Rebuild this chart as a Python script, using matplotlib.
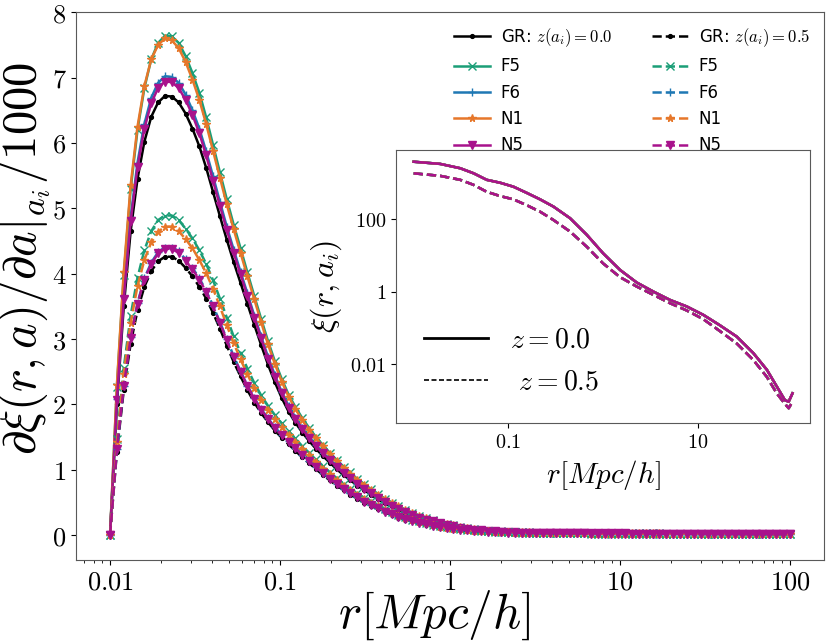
import numpy as np
import matplotlib
matplotlib.use("Agg")
import matplotlib.pyplot as plt
from matplotlib.lines import Line2D
from matplotlib.ticker import FuncFormatter, NullFormatter, FixedLocator, NullLocator

plt.rcParams['mathtext.fontset'] = 'cm'

# radial bins of the measurement (log spaced, 0.01 .. 100 Mpc/h)
r = np.logspace(-2, 2, 100)

# d xi_bar / d a / 1000 (indices 0..59), tails shared below
TAIL_Z0_A = [0.04, 0.038, 0.036, 0.035, 0.034, 0.033, 0.032, 0.031, 0.030, 0.030,
             0.029, 0.029, 0.028, 0.028, 0.027, 0.027, 0.026, 0.026, 0.026, 0.025,
             0.025, 0.025, 0.024, 0.024, 0.024, 0.023, 0.023, 0.023, 0.023, 0.022,
             0.022, 0.022, 0.022, 0.021, 0.021, 0.021, 0.021, 0.020, 0.020, 0.020]
TAIL_Z0_B = [0.045, 0.042, 0.04, 0.038, 0.037, 0.036, 0.035, 0.034, 0.033, 0.032,
             0.031, 0.031, 0.030, 0.030, 0.029, 0.029, 0.028, 0.028, 0.027, 0.027,
             0.027, 0.026, 0.026, 0.026, 0.025, 0.025, 0.025, 0.024, 0.024, 0.024,
             0.024, 0.023, 0.023, 0.023, 0.023, 0.022, 0.022, 0.022, 0.022, 0.022]
TAIL_Z05 = [0.035, 0.034, 0.033, 0.032, 0.031, 0.030, 0.029, 0.028, 0.028, 0.027,
            0.026, 0.026, 0.025, 0.025, 0.024, 0.024, 0.023, 0.023, 0.023, 0.022,
            0.022, 0.022, 0.021, 0.021, 0.021, 0.020, 0.020, 0.020, 0.020, 0.019,
            0.019, 0.019, 0.019, 0.018, 0.018, 0.018, 0.018, 0.018, 0.017, 0.017]

gr_z0 = [0, 2.0, 3.5, 4.65, 5.45, 6.02, 6.4, 6.62, 6.72, 6.71,
         6.62, 6.45, 6.22, 5.95, 5.62, 5.25, 4.88, 4.52, 4.18, 3.86,
         3.54, 3.22, 2.91, 2.61, 2.34, 2.1, 1.89, 1.72, 1.57, 1.44,
         1.32, 1.21, 1.11, 1.01, 0.92, 0.84, 0.76, 0.69, 0.62, 0.55,
         0.49, 0.44, 0.39, 0.34, 0.30, 0.26, 0.23, 0.20, 0.17, 0.15,
         0.13, 0.11, 0.095, 0.082, 0.072, 0.063, 0.056, 0.05, 0.046, 0.042] + TAIL_Z0_A
f5_z0 = [0, 2.27, 3.98, 5.29, 6.2, 6.84, 7.28, 7.53, 7.64, 7.63,
         7.53, 7.33, 7.07, 6.77, 6.39, 5.97, 5.55, 5.14, 4.75, 4.39,
         4.02, 3.66, 3.31, 2.97, 2.66, 2.39, 2.15, 1.96, 1.79, 1.64,
         1.5, 1.38, 1.26, 1.15, 1.05, 0.96, 0.86, 0.78, 0.7, 0.63,
         0.56, 0.5, 0.44, 0.39, 0.34, 0.3, 0.26, 0.23, 0.19, 0.17,
         0.15, 0.13, 0.11, 0.093, 0.082, 0.072, 0.064, 0.057, 0.052, 0.048] + TAIL_Z0_B
f6_z0 = [0, 2.09, 3.66, 4.86, 5.7, 6.29, 6.69, 6.92, 7.02, 7.01,
         6.92, 6.74, 6.5, 6.22, 5.87, 5.49, 5.1, 4.72, 4.37, 4.03,
         3.7, 3.36, 3.04, 2.73, 2.45, 2.19, 1.98, 1.8, 1.64, 1.5,
         1.38, 1.26, 1.16, 1.06, 0.96, 0.88, 0.79, 0.72, 0.65, 0.57,
         0.51, 0.46, 0.41, 0.36, 0.31, 0.27, 0.24, 0.21, 0.18, 0.16,
         0.14, 0.115, 0.1, 0.086, 0.075, 0.066, 0.058, 0.052, 0.048, 0.044] + TAIL_Z0_A
n1_z0 = [0, 2.3, 4.03, 5.35, 6.25, 6.87, 7.28, 7.5, 7.6, 7.57,
         7.45, 7.24, 6.97, 6.66, 6.29, 5.88, 5.47, 5.06, 4.68, 4.32,
         3.96, 3.61, 3.26, 2.92, 2.62, 2.35, 2.12, 1.93, 1.76, 1.61,
         1.48, 1.36, 1.24, 1.13, 1.03, 0.94, 0.85, 0.77, 0.69, 0.62,
         0.55, 0.49, 0.44, 0.38, 0.34, 0.29, 0.26, 0.22, 0.19, 0.17,
         0.15, 0.12, 0.11, 0.092, 0.081, 0.071, 0.063, 0.056, 0.052, 0.047] + TAIL_Z0_B
n5_z0 = [0, 2.07, 3.62, 4.8, 5.63, 6.22, 6.61, 6.84, 6.94, 6.93,
         6.84, 6.66, 6.43, 6.15, 5.81, 5.42, 5.04, 4.67, 4.32, 3.99,
         3.66, 3.33, 3.01, 2.7, 2.42, 2.17, 1.95, 1.78, 1.62, 1.49,
         1.36, 1.25, 1.15, 1.04, 0.95, 0.87, 0.79, 0.71, 0.64, 0.57,
         0.51, 0.45, 0.4, 0.35, 0.31, 0.27, 0.24, 0.21, 0.18, 0.155,
         0.135, 0.114, 0.098, 0.085, 0.074, 0.065, 0.058, 0.052, 0.047, 0.043] + TAIL_Z0_A

gr_z05 = [0, 1.28, 2.22, 2.93, 3.44, 3.8, 4.04, 4.19, 4.26, 4.26,
          4.2, 4.09, 3.96, 3.8, 3.62, 3.4, 3.16, 2.9, 2.65, 2.43,
          2.22, 2.03, 1.87, 1.73, 1.6, 1.49, 1.39, 1.29, 1.19, 1.1,
          1.01, 0.92, 0.84, 0.76, 0.69, 0.62, 0.56, 0.5, 0.45, 0.4,
          0.35, 0.31, 0.27, 0.24, 0.21, 0.18, 0.16, 0.14, 0.12, 0.105,
          0.092, 0.082, 0.073, 0.065, 0.058, 0.052, 0.047, 0.043, 0.04, 0.037] + TAIL_Z05
f5_z05 = [0, 1.47, 2.56, 3.36, 3.94, 4.36, 4.65, 4.82, 4.89, 4.89,
          4.82, 4.69, 4.54, 4.36, 4.15, 3.9, 3.62, 3.33, 3.04, 2.79,
          2.55, 2.33, 2.14, 1.98, 1.84, 1.71, 1.59, 1.48, 1.36, 1.26,
          1.16, 1.06, 0.96, 0.87, 0.79, 0.71, 0.64, 0.57, 0.52, 0.46,
          0.4, 0.36, 0.31, 0.28, 0.24, 0.21, 0.18, 0.16, 0.14, 0.12,
          0.105, 0.094, 0.084, 0.075, 0.067, 0.06, 0.054, 0.049, 0.046, 0.042] + TAIL_Z05
f6_z05 = [0, 1.32, 2.29, 3.03, 3.55, 3.93, 4.17, 4.33, 4.4, 4.4,
          4.34, 4.22, 4.09, 3.93, 3.74, 3.51, 3.26, 3.0, 2.74, 2.51,
          2.29, 2.1, 1.93, 1.79, 1.65, 1.54, 1.44, 1.33, 1.23, 1.14,
          1.04, 0.95, 0.87, 0.79, 0.71, 0.64, 0.58, 0.52, 0.46, 0.41,
          0.36, 0.32, 0.28, 0.25, 0.22, 0.19, 0.165, 0.145, 0.124, 0.108,
          0.095, 0.085, 0.075, 0.067, 0.06, 0.054, 0.049, 0.044, 0.041, 0.038] + TAIL_Z05
n1_z05 = [0, 1.42, 2.47, 3.25, 3.81, 4.21, 4.48, 4.64, 4.72, 4.72,
          4.65, 4.53, 4.39, 4.21, 4.01, 3.77, 3.5, 3.21, 2.94, 2.69,
          2.46, 2.25, 2.07, 1.92, 1.77, 1.65, 1.54, 1.43, 1.32, 1.22,
          1.12, 1.02, 0.93, 0.84, 0.76, 0.69, 0.62, 0.55, 0.5, 0.44,
          0.39, 0.34, 0.3, 0.27, 0.23, 0.2, 0.18, 0.155, 0.133, 0.116,
          0.102, 0.091, 0.081, 0.072, 0.064, 0.058, 0.052, 0.048, 0.044, 0.041] + TAIL_Z05
n5_z05 = [0, 1.32, 2.28, 3.01, 3.54, 3.91, 4.15, 4.31, 4.38, 4.38,
          4.32, 4.2, 4.07, 3.91, 3.72, 3.5, 3.25, 2.98, 2.72, 2.5,
          2.28, 2.09, 1.92, 1.78, 1.64, 1.53, 1.43, 1.33, 1.22, 1.13,
          1.04, 0.95, 0.86, 0.78, 0.71, 0.64, 0.58, 0.51, 0.46, 0.41,
          0.36, 0.32, 0.28, 0.25, 0.22, 0.19, 0.165, 0.144, 0.123, 0.108,
          0.095, 0.084, 0.075, 0.067, 0.06, 0.053, 0.048, 0.044, 0.041, 0.038] + TAIL_Z05

# inset: xi(r, a_i), all models lie on top of each other
inset_r = [0.01, 0.019, 0.031, 0.043, 0.059, 0.082, 0.113, 0.156, 0.216, 0.299,
           0.448, 0.673, 1.0, 1.51, 2.27, 3.4, 5.09, 7.64, 11.4, 16.9,
           25.7, 38.6, 53.7, 68.2, 83.2, 91.2, 100]
xi_z0 = [3890, 3390, 2570, 1860, 1230, 1020, 794, 537, 355, 224,
         107, 37.2, 11.5, 3.98, 1.78, 1.0, 0.589, 0.389, 0.229, 0.120,
         0.0575, 0.020, 0.0069, 0.0024, 0.0010, 0.00091, 0.00155]
xi_z05 = [1860, 1585, 1230, 891, 575, 437, 355, 245, 162, 95.5,
          45.7, 17.4, 6.03, 2.51, 1.38, 0.813, 0.479, 0.302, 0.174, 0.0832,
          0.0372, 0.0129, 0.00437, 0.00155, 0.00079, 0.0006, 0.00091]

models = ['GR', 'F5', 'F6', 'N1', 'N5']
colors = {'GR': 'black', 'F5': '#1b9e77', 'F6': '#1f78b4', 'N1': '#e6772a', 'N5': '#a8128c'}
markers = {'GR': '.', 'F5': 'x', 'F6': '+', 'N1': '*', 'N5': 'v'}
data_z0 = {'GR': gr_z0, 'F5': f5_z0, 'F6': f6_z0, 'N1': n1_z0, 'N5': n5_z0}
data_z05 = {'GR': gr_z05, 'F5': f5_z05, 'F6': f6_z05, 'N1': n1_z05, 'N5': n5_z05}

fmt = FuncFormatter(lambda v, _: '$%g$' % v)

fig = plt.figure(figsize=(8.31, 6.43), dpi=100)
ax = fig.add_axes([0.0915, 0.129, 0.900, 0.852])

for m in models:
    lab = r'GR: $z(a_i)=0.0$' if m == 'GR' else m
    ax.plot(r, data_z0[m], '-', color=colors[m], marker=markers[m], ms=5.5, lw=1.8, label=lab)
for m in models:
    lab = r'GR: $z(a_i)=0.5$' if m == 'GR' else m
    ax.plot(r, data_z05[m], '--', color=colors[m], marker=markers[m], ms=5.5, lw=1.8, label=lab)

ax.set_xscale('log')
ax.set_xlim(10 ** -2.2, 10 ** 2.2)
ax.set_ylim(-0.38, 8.0)
ax.xaxis.set_major_formatter(fmt)
ax.xaxis.set_minor_formatter(NullFormatter())
ax.yaxis.set_major_formatter(fmt)
ax.tick_params(labelsize=19)
ax.set_xlabel(r'$r[Mpc/h]$', fontsize=35.5)
ax.set_ylabel(r'$\partial\bar{\xi}(r,a)/\partial a|_{a_i}/1000$', fontsize=35)
ax.xaxis.set_label_coords(0.479, -0.052)
ax.yaxis.set_label_coords(-0.031, 0.551)
for s in ax.spines.values():
    s.set_edgecolor('0.35')

ax.legend(loc='upper right', bbox_to_anchor=(1.0, 1.0), ncol=2, frameon=False,
          fontsize=12, columnspacing=2.4, labelspacing=0.5, handlelength=2.15,
          handletextpad=0.65, borderaxespad=0.45)

# inset
ins = fig.add_axes([0.4765, 0.3417, 0.4982, 0.425])
for m in models:
    ins.plot(inset_r, xi_z0, '-', color=colors[m], lw=1.8)
for m in models:
    ins.plot(inset_r, xi_z05, '--', color=colors[m], lw=1.8)
ins.set_xscale('log')
ins.set_yscale('log')
ins.set_xlim(0.0065, 153)
ins.set_ylim(2.3e-4, 8.2e3)
ins.xaxis.set_major_locator(FixedLocator([0.1, 10]))
ins.xaxis.set_minor_locator(NullLocator())
ins.yaxis.set_major_locator(FixedLocator([0.01, 1, 100]))
ins.yaxis.set_minor_locator(NullLocator())
ins.xaxis.set_major_formatter(fmt)
ins.yaxis.set_major_formatter(fmt)
ins.tick_params(labelsize=14.5)
ins.set_xlabel(r'$r[Mpc/h]$', fontsize=21)
ins.set_ylabel(r'$\xi(r,a_i)$', fontsize=23)
for s in ins.spines.values():
    s.set_edgecolor('0.35')

handles = [Line2D([], [], color='black', lw=2.0, ls='-'),
           Line2D([], [], color='black', lw=1.2, ls=(0, (3, 1.5)))]
ins.legend(handles, [r'$z=0.0$', r' $z=0.5$'], loc='lower left', frameon=False,
           fontsize=20, handlelength=2.3, borderaxespad=0.6)

fig.savefig('out.png', dpi=100)
